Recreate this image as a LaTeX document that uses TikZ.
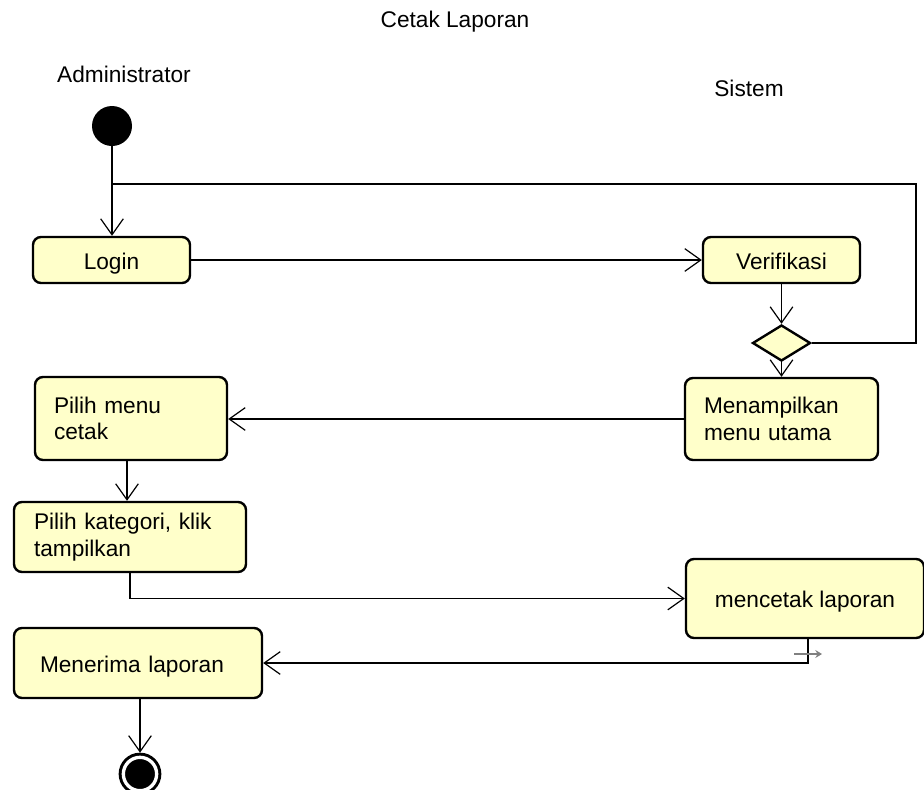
\documentclass[tikz,border=0pt]{standalone}
\usepackage{fontspec}
\setmainfont{Liberation Sans}
\usepackage{xcolor}
\usepackage{tikz}
\usetikzlibrary{arrows.meta, shapes.geometric}
\definecolor{actfill}{RGB}{255,255,202}

\begin{document}
\begin{tikzpicture}[x=0.75pt, y=-0.75pt, >={Straight Barb[length=12pt, width=17pt]},
    lbl/.style={font=\fontsize{17pt}{20pt}\selectfont},
    act/.style={lbl, draw, line width=1.8pt, rounded corners=6pt, fill=actfill, inner xsep=14.25pt},
    oneline/.style={text height=15pt, text depth=1pt},
    flow/.style={line width=0.9pt}]
    \useasboundingbox (0,0) rectangle (924,789);

    \node[lbl] (title) at (455,22) {Cetak Laporan};
    \node[lbl] (admin) at (124,74) {Administrator};
    \node[lbl] (sistem) at (749,88) {Sistem};

    \node[circle, fill=black, minimum size=30pt, inner sep=0pt] (init) at (112,126) {};

    \node[act, oneline, minimum width=117.75pt, minimum height=34.5pt] (login) at (111.5,260) {Login};
    \node[act, oneline, minimum width=117.75pt, minimum height=34.5pt] (verif) at (781.5,260) {Verifikasi};

    \node[diamond, draw, line width=1.8pt, fill=actfill, minimum width=43.5pt, minimum height=27pt, inner sep=0pt] (dec) at (781.5,343) {};

    \node[act, minimum height=61.5pt, text width=116.25pt, align=left] (menu) at (781.5,419) {Menampilkan\\menu utama};
    \node[act, minimum height=62.25pt, text width=115.5pt, align=left] (pilih) at (131,418.5) {Pilih menu\\cetak};
    \node[act, minimum height=52.5pt, inner xsep=15pt, text width=144pt, align=left] (kategori) at (130,537) {Pilih kategori, klik\\tampilkan};
    \node[act, oneline, minimum width=178.5pt, minimum height=59.25pt] (cetak) at (805,598.5) {mencetak laporan};
    \node[act, oneline, minimum height=52.5pt, inner xsep=19.5pt, text width=147pt, align=left] (terima) at (138,663) {Menerima laporan};

    \node[circle, fill=black, draw=black, double=white, double distance=2.5pt, line width=2.25pt,
        minimum size=25pt, inner sep=0pt, outer sep=3.5pt] (final) at (140,774) {};

    \coordinate (merge) at (112,184);
    \coordinate (loopc) at (916,184);
    \coordinate (tickA) at (794,654);
    \coordinate (tickB) at (822,654);

    \draw[flow, ->] (init) -- (init |- login.north);
    \draw[flow] (dec.east) -| (loopc) -- (merge);
    \draw[flow, ->] (login) -- (verif);
    \draw[flow, ->] (verif) -- (dec);
    \draw[flow, ->] (dec) -- (menu);
    \draw[flow, ->] (menu.west) -- (pilih.east |- menu.west);
    \draw[flow, ->] ([xshift=-3pt]pilih.south) -- ([xshift=-3pt]pilih.south |- kategori.north);
    \draw[flow, ->] (kategori.south) |- (cetak.west);
    \draw[flow, ->] ([xshift=2.25pt]cetak.south) |- (terima.east);
    \draw[flow, ->] (terima.south -| final) -- (final);
    \draw[gray, line width=1.6pt, -{Stealth[length=5pt, width=6pt]}] (tickA) -- (tickB);
\end{tikzpicture}
\end{document}
